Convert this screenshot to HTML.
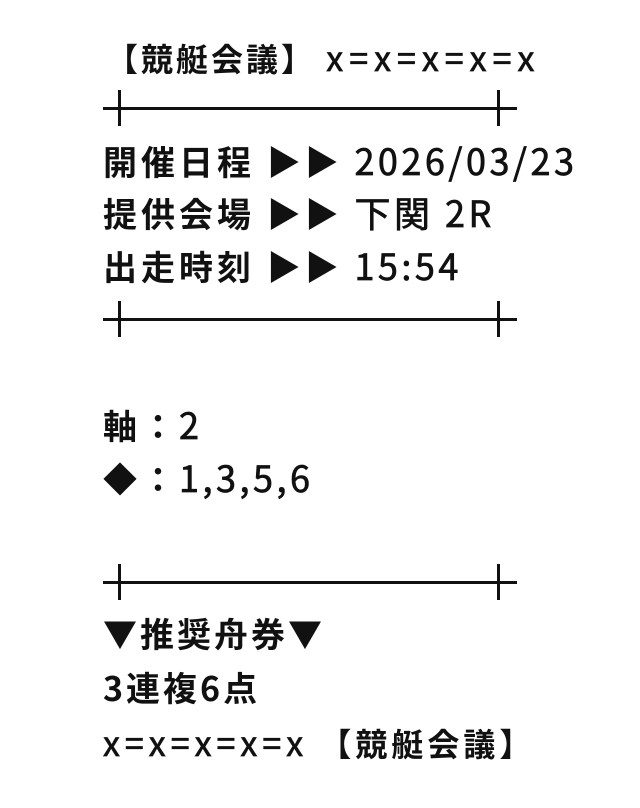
<!DOCTYPE html>
<html><head><meta charset="utf-8"><style>
html,body{margin:0;padding:0;background:#fff;}
body{width:640px;height:808px;position:relative;overflow:hidden;font-family:"Noto Sans CJK JP","Liberation Sans",sans-serif;color:#111;}
.t{position:absolute;height:52px;line-height:52px;white-space:nowrap;font-weight:bold;font-size:34px;letter-spacing:4px;}
.n{font-weight:normal;-webkit-text-stroke:0.7px #111;font-size:36px;letter-spacing:3.5px;}
.h{position:absolute;left:103px;width:414px;height:3px;background:#111;}
.v{position:absolute;width:3px;height:36px;background:#111;}
</style></head><body>
<div class="t" style="left:106px;top:31px;font-size:32px;letter-spacing:3px">【競艇会議】 <span class="n" style="font-size:34px;letter-spacing:6px">x=x=x=x=x</span></div>
<div class="h" style="top:107px"></div><div class="v" style="left:118px;top:90px"></div><div class="v" style="left:497px;top:90px"></div>
<div class="t" style="left:103px;top:134px">開催日程 ▶▶ <span class="n">2026/03/23</span></div>
<div class="t" style="left:103px;top:186px">提供会場 ▶▶ <span class="n">下関 2R</span></div>
<div class="t" style="left:103px;top:239px">出走時刻 ▶▶ <span class="n">15:54</span></div>
<div class="h" style="top:318px"></div><div class="v" style="left:118px;top:301px"></div><div class="v" style="left:497px;top:301px"></div>
<div class="t" style="left:103px;top:398px">軸：<span class="n">2</span></div>
<div class="t" style="left:103px;top:451px">◆：<span class="n">1,3,5,6</span></div>
<div class="h" style="top:581px"></div><div class="v" style="left:118px;top:564px"></div><div class="v" style="left:497px;top:564px"></div>
<div class="t" style="left:103px;top:607px;letter-spacing:3px">▼推奨舟券▼</div>
<div class="t" style="left:103px;top:661px;letter-spacing:3px">3連複6点</div>
<div class="t" style="left:103px;top:716px;font-size:32px;letter-spacing:4px"><span class="n" style="font-size:34px;letter-spacing:5px">x=x=x=x=x</span> 【競艇会議】</div>
</body></html>
